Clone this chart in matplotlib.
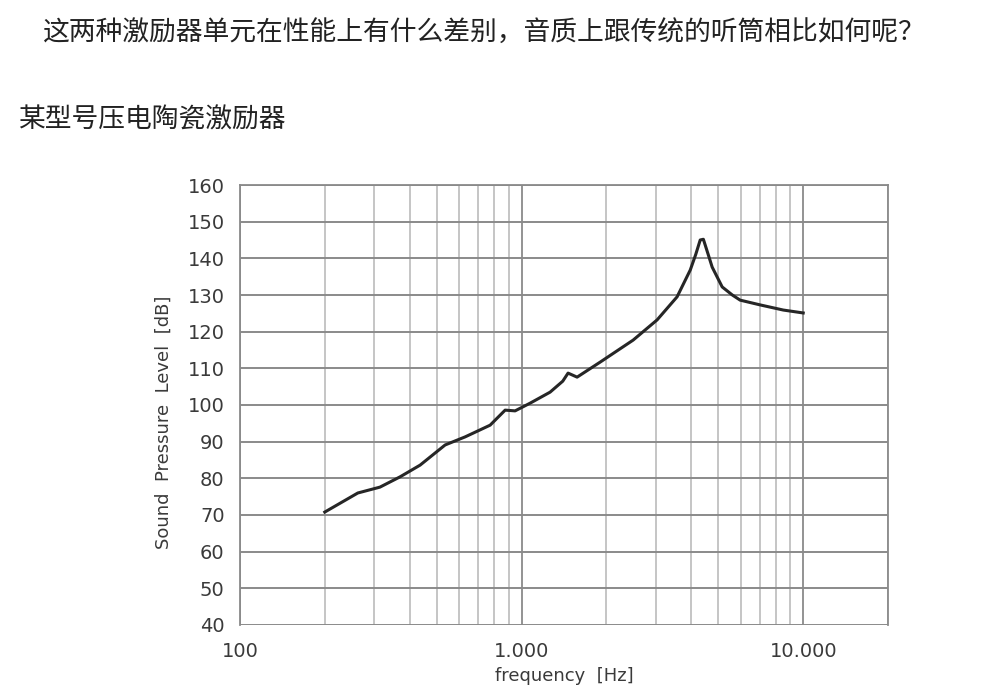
import numpy as np
import matplotlib.pyplot as plt
from matplotlib.ticker import FixedLocator, NullFormatter

plt.rcParams['font.family'] = ['Noto Sans CJK SC', 'DejaVu Sans']

# Curve
freq = [200, 262, 314, 370, 436, 535, 630, 773, 874, 948, 1072, 1262, 1400, 1462,
        1574, 1901, 2489, 3027, 3565, 3970, 4150, 4307, 4420, 4600, 4750, 5155, 5600,
        5970, 7030, 8490, 10000]
spl = [70.8, 76.0, 77.6, 80.4, 83.6, 89.1, 91.3, 94.5, 98.6, 98.4, 100.5, 103.5, 106.5, 108.7,
       107.6, 111.7, 117.7, 123.2, 129.5, 136.8, 141.0, 145.0, 145.2, 141.0, 137.6, 132.2, 130.0,
       128.6, 127.3, 125.9, 125.1]

x_ticks = [100, 1000, 10000]
x_ticklabels = ['100', '1.000', '10.000']
x_minor = [200, 300, 400, 500, 600, 700, 800, 900,
           2000, 3000, 4000, 5000, 6000, 7000, 8000, 9000, 20000]
y_ticks = list(range(40, 170, 10))

title_1 = '这两种激励器单元在性能上有什么差别，音质上跟传统的听筒相比如何呢？'
title_2 = '某型号压电陶瓷激励器'

fig = plt.figure(figsize=(9.9, 6.97), dpi=100)
fig.text(42 / 990, 1 - 33 / 697, title_1, fontsize=19.3, color='#222', va='center', ha='left')
fig.text(18 / 990, 1 - 120 / 697, title_2, fontsize=19.3, color='#222', va='center', ha='left')

ax = fig.add_axes([240 / 990, 1 - 625 / 697, 648 / 990, 440 / 697])
ax.set_xscale('log')
ax.set_xlim(100, 20000)
ax.set_ylim(40, 160)

ax.xaxis.set_major_locator(FixedLocator(x_ticks))
ax.set_xticklabels(x_ticklabels)
ax.xaxis.set_minor_locator(FixedLocator(x_minor))
ax.xaxis.set_minor_formatter(NullFormatter())
ax.set_yticks(y_ticks)

# grid
ax.grid(True, which='major', axis='y', color='#8a8a8a', linewidth=1.4)
ax.grid(True, which='major', axis='x', color='#8a8a8a', linewidth=1.3)
ax.grid(True, which='minor', axis='x', color='#b5b5b5', linewidth=1.1)

for s in ['left', 'top', 'right']:
    ax.spines[s].set_color('#8a8a8a')
    ax.spines[s].set_linewidth(1.3)
ax.spines['bottom'].set_visible(False)
ax.tick_params(which='both', length=0)
ax.tick_params(axis='y', labelsize=14, labelcolor='#3a3a3a', pad=11)
ax.tick_params(axis='x', labelsize=14, labelcolor='#3a3a3a', pad=12)
for lbl in ax.get_xticklabels() + ax.get_yticklabels():
    lbl.set_fontfamily('DejaVu Sans')

ax.plot(freq, spl, color='#262626', linewidth=2.2, solid_joinstyle='round')

ax.text(-0.117, 0.46, 'Sound  Pressure  Level  [dB]', transform=ax.transAxes,
        rotation=90, ha='center', va='center', fontsize=13, color='#3a3a3a',
        family='DejaVu Sans')
ax.text(0.5, -0.115, 'frequency  [Hz]', transform=ax.transAxes,
        ha='center', va='center', fontsize=13, color='#3a3a3a', family='DejaVu Sans')

fig.savefig('out.png', dpi=100)
